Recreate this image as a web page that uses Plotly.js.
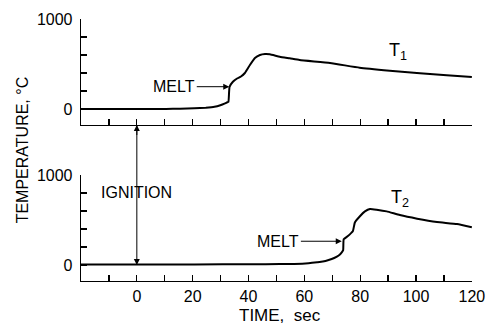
<!DOCTYPE html>
<html>
<head>
<meta charset="utf-8">
<script src="https://cdn.plot.ly/plotly-3.0.1.min.js"></script>
<style>html,body{margin:0;padding:0;background:#fff;}#chart{width:490px;height:326px;}</style>
</head>
<body>
<div id="chart"></div>
<script>
// Time (s) and temperature (°C) for the two thermocouples
const t1Time = [-20, -10, 0, 10.4, 15.5, 20.6, 24.7, 27.8, 29.9, 31.4, 32.4, 32.8, 33.2, 34.4, 35.9, 37.3, 38.7, 40.5, 42.3, 44.1, 45.9, 47.6, 51.2, 54.8, 58.3, 69.2, 79.8, 90.6, 101.4, 111.0, 120.0];
const t1Temp = [0, 0, 0, 0, 3, 8, 15, 25, 42, 60, 75, 80, 245, 303, 339, 361, 400, 489, 567, 600, 611, 608, 581, 563, 544, 511, 459, 426, 397, 374, 356];

const t2Time = [-20, 0, 20.6, 41.1, 51.3, 56.4, 61.5, 64.6, 66.6, 68.7, 70.7, 72.3, 73.4, 73.9, 74.1, 75.6, 76.9, 77.4, 78.1, 79.9, 81.7, 83.5, 85.9, 89.5, 94.2, 100.4, 107.5, 114.7, 120.0];
const t2Temp = [5, 5, 6, 8, 10, 12, 20, 30, 38, 55, 78, 105, 140, 165, 286, 322, 360, 377, 473, 542, 596, 623, 615, 596, 555, 515, 478, 455, 420];

const yTickVals = [0, 200, 400, 600, 800, 1000];
const yTickText = ['0', '', '', '', '', '1000'];
const xTickVals = [-10, 0, 10, 20, 30, 40, 50, 60, 70, 80, 90, 100, 110, 120];
const xTickText = ['', '0', '', '20', '', '40', '', '60', '', '80', '', '100', '', '120'];

const FONT = 'Liberation Sans, Arial, sans-serif';
const lineStyle = {color: '#000', width: 2, shape: 'spline', smoothing: 0.4};

const traces = [
  {x: t1Time, y: t1Temp, xaxis: 'x', yaxis: 'y', mode: 'lines', line: lineStyle, hoverinfo: 'skip'},
  {x: t2Time, y: t2Temp, xaxis: 'x2', yaxis: 'y2', mode: 'lines', line: lineStyle, hoverinfo: 'skip'}
];

const axCommon = {
  showgrid: false, zeroline: false, showline: true, linecolor: '#000', linewidth: 1.3,
  ticks: 'inside', ticklen: 6, tickwidth: 1.3, tickcolor: '#000',
  tickfont: {family: FONT, size: 16, color: '#000'}
};

const layout = {
  width: 490, height: 326,
  margin: {l: 81, r: 18, t: 19, b: 45},
  paper_bgcolor: '#fff', plot_bgcolor: '#fff',
  showlegend: false,
  font: {family: FONT, color: '#000'},
  xaxis: Object.assign({}, axCommon, {range: [-20, 120.05], anchor: 'y', tickvals: xTickVals, showticklabels: false}),
  yaxis: Object.assign({}, axCommon, {range: [-178, 1000.5], domain: [0.5954, 1], anchor: 'x', tickvals: yTickVals, ticktext: yTickText, ticklabelstandoff: 4}),
  xaxis2: Object.assign({}, axCommon, {range: [-20, 120.05], anchor: 'y2', tickvals: xTickVals, ticktext: xTickText}),
  yaxis2: Object.assign({}, axCommon, {range: [-178, 1000.5], domain: [0, 0.4046], anchor: 'x2', tickvals: yTickVals, ticktext: yTickText, ticklabelstandoff: 4}),
  annotations: [
    {xref: 'paper', yref: 'paper', x: -0.15, y: 0.5, text: 'TEMPERATURE, °C', textangle: -90, showarrow: false,
     xanchor: 'center', yanchor: 'middle', font: {family: FONT, size: 16}},
    {xref: 'paper', yref: 'paper', x: 0.51, y: -0.132, text: 'TIME,  sec', showarrow: false,
     xanchor: 'center', yanchor: 'middle', font: {family: FONT, size: 17}},
    {xref: 'x', yref: 'y', x: 33.1, y: 248, axref: 'x', ayref: 'y', ax: 13.4, ay: 248, text: 'MELT',
     showarrow: true, arrowhead: 2, arrowsize: 1.2, arrowwidth: 1, arrowcolor: '#000', font: {family: FONT, size: 16}},
    {xref: 'x2', yref: 'y2', x: 73.4, y: 264, axref: 'x2', ayref: 'y2', ax: 50.7, ay: 264, text: 'MELT',
     showarrow: true, arrowhead: 2, arrowsize: 1.2, arrowwidth: 1, arrowcolor: '#000', font: {family: FONT, size: 16}},
    {xref: 'x', yref: 'y', x: 93.5, y: 640, text: 'T<sub>1</sub>', showarrow: false, font: {family: FONT, size: 18}},
    {xref: 'x2', yref: 'y2', x: 94.2, y: 735, text: 'T<sub>2</sub>', showarrow: false, font: {family: FONT, size: 18}},
    {xref: 'x2', yref: 'y2', x: 0, y: 802, text: 'IGNITION', showarrow: false, font: {family: FONT, size: 16}},
    {xref: 'x2', yref: 'y2', x: 0, y: 0, ax: 0, ay: -141, text: ' ', showarrow: true, arrowhead: 2,
     arrowsize: 1.2, arrowwidth: 1, arrowcolor: '#000', standoff: 0, font: {size: 1}},
    {xref: 'x', yref: 'y', x: 0, y: -178, ax: 0, ay: 12, text: ' ', showarrow: true, arrowhead: 2,
     arrowsize: 1.2, arrowwidth: 1, arrowcolor: '#000', standoff: 0, font: {size: 1}}
  ]
};

Plotly.newPlot('chart', traces, layout, {staticPlot: true, displayModeBar: false});
</script>
</body>
</html>
